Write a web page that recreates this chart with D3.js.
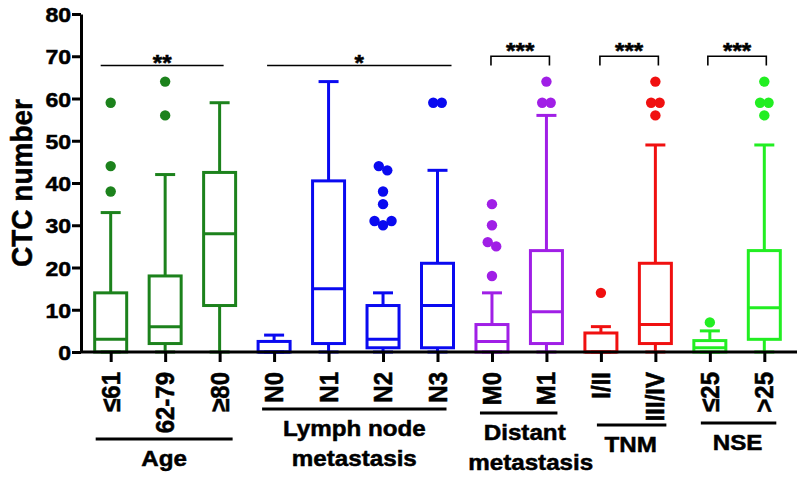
<!DOCTYPE html>
<html>
<head>
<meta charset="utf-8">
<script src="https://cdn.jsdelivr.net/npm/d3@7"></script>
<style>
  body { margin: 0; background: #fff; }
  svg { display: block; font-family: "Liberation Sans", Arial, sans-serif; font-weight: bold; }
  svg text { stroke: #000; stroke-width: 0.5px; }
</style>
</head>
<body>
<svg id="chart" width="797" height="477"></svg>
<script>
// categories, left to right
const categories = ["≤61", "62-79", "≥80", "N0", "N1", "N2", "N3", "M0", "M1", "I/II", "III/IV", "≤25", ">25"];

// box plot stats per category
const whiskerLow  = [0, 0, 0,    0,   0,    0,  0,  0,   0,   0,   0,   0,   0];
const q1          = [0, 2, 11,   0,   2,    1,  1,  0,   2,   0,   2,   0,   3];
const median      = [3, 6, 28,   0,   15,   3,  11, 2.5, 9.5, 0,   6.5, 1,   10.5];
const q3          = [14, 18, 42.5, 2.5, 40.5, 11, 21, 6.5, 24,  4.5, 21,  2.7, 24];
const whiskerHigh = [33, 42, 59,  4,   64,   14, 43, 14,  56,  6,   49,  5,   49];
const outliers = [
    [59, 44, 38], [64, 56], [],
    [], [], [44, 43, 38, 35, 31, 30, 31], [59, 59],
    [35, 30, 26, 25, 18], [64, 59, 59],
    [14], [64, 59, 59, 56],
    [7], [64, 59, 59, 56]
];

// groups under the x axis
const groupNames = [["Age"], ["Lymph node", "metastasis"], ["Distant", "metastasis"], ["TNM"], ["NSE"]];
const groupFirst = [0, 3, 7, 9, 11];
const groupLast  = [2, 6, 8, 10, 12];
const groupColors = ["#1c821c", "#0a0af0", "#a01fe6", "#f01010", "#22ee22"];

// significance marks
const sigLabels = ["**", "*", "***", "***", "***"];
const sigStyle  = ["line", "line", "bracket", "bracket", "bracket"];

// layout only
const groupBarY = [439, 409, 413, 425, 423];
const groupBarPad = [[15, 13], [12, 9], [12, 11], [4, 11], [9, 12]];
const groupTextDx = [0, 0, 6, -1, -1];
const sigPad = [[10, 4], [7, 14], [1, 3], [1, 3], [2, 2]];
const stretch = 1.1;

const svg = d3.select("#chart");

const y = d3.scaleLinear().domain([0, 80]).range([352, 14]);
const x = d3.scalePoint().domain(categories).range([81, 794]).padding(0.545);

function groupOf(i) {
    for (let g = 0; g < groupFirst.length; g++) {
        if (i >= groupFirst[g] && i <= groupLast[g]) return g;
    }
    return 0;
}

const boxes = categories.map(function (c, i) {
    return {
        name: c, cx: x(c), color: groupColors[groupOf(i)],
        lo: whiskerLow[i], q1: q1[i], med: median[i], q3: q3[i], hi: whiskerHigh[i],
        out: outliers[i]
    };
});

const boxW = 32, capW = 20;

const bg = svg.append("g").selectAll(".box")
    .data(boxes)
    .enter().append("g")
    .attr("class", "box")
    .attr("stroke", function (d) { return d.color; })
    .attr("stroke-width", 3)
    .attr("fill", "none");

// whiskers
bg.append("line")
    .attr("x1", function (d) { return d.cx; }).attr("x2", function (d) { return d.cx; })
    .attr("y1", function (d) { return y(d.hi); }).attr("y2", function (d) { return y(d.q3); });
bg.append("line")
    .attr("x1", function (d) { return d.cx; }).attr("x2", function (d) { return d.cx; })
    .attr("y1", function (d) { return y(d.q1); }).attr("y2", function (d) { return y(d.lo); });
bg.append("line")
    .attr("x1", function (d) { return d.cx - capW / 2; }).attr("x2", function (d) { return d.cx + capW / 2; })
    .attr("y1", function (d) { return y(d.hi); }).attr("y2", function (d) { return y(d.hi); });
bg.append("line")
    .attr("x1", function (d) { return d.cx - capW / 2; }).attr("x2", function (d) { return d.cx + capW / 2; })
    .attr("y1", function (d) { return y(d.lo); }).attr("y2", function (d) { return y(d.lo); });

// box + median
bg.append("rect")
    .attr("x", function (d) { return d.cx - boxW / 2; })
    .attr("y", function (d) { return y(d.q3); })
    .attr("width", boxW)
    .attr("height", function (d) { return y(d.q1) - y(d.q3); });
bg.append("line")
    .attr("x1", function (d) { return d.cx - boxW / 2; }).attr("x2", function (d) { return d.cx + boxW / 2; })
    .attr("y1", function (d) { return y(d.med); }).attr("y2", function (d) { return y(d.med); });

// outliers, near-equal values spread sideways
function spread(vals) {
    const res = [];
    let i = 0;
    while (i < vals.length) {
        let j = i;
        while (j + 1 < vals.length && Math.abs(vals[j + 1] - vals[j]) <= 1.5) j++;
        const n = j - i + 1;
        for (let k = 0; k < n; k++) res.push({ v: vals[i + k], dx: (k - (n - 1) / 2) * 8.5 });
        i = j + 1;
    }
    return res;
}

bg.selectAll("circle")
    .data(function (d) { return spread(d.out).map(function (p) { p.cx = d.cx; p.color = d.color; return p; }); })
    .enter().append("circle")
    .attr("cx", function (p) { return p.cx + p.dx; })
    .attr("cy", function (p) { return y(p.v); })
    .attr("r", 5.2)
    .attr("stroke", "none")
    .attr("fill", function (p) { return p.color; });

// axes
const yAxis = svg.append("g")
    .attr("transform", "translate(81,0)")
    .call(d3.axisLeft(y).tickValues(d3.range(0, 81, 10)).tickSize(9).tickSizeOuter(0));
yAxis.select(".domain").attr("stroke-width", 3);
yAxis.selectAll(".tick line").attr("stroke-width", 3);
yAxis.selectAll(".tick text")
    .attr("x", -9)
    .attr("dy", "0.36em")
    .attr("transform", "scale(" + stretch + ",1)")
    .style("font-size", "21px")
    .style("font-family", "'Liberation Sans', Arial, sans-serif")
    .style("font-weight", "bold")
    .attr("fill", "#000");

const xAxis = svg.append("g")
    .attr("transform", "translate(0,352)")
    .call(d3.axisBottom(x).tickSize(10).tickSizeOuter(0).tickFormat(""));
xAxis.select(".domain").attr("d", "M81,0H797").attr("stroke-width", 3);
xAxis.selectAll(".tick line").attr("stroke-width", 3);

// rotated category labels
svg.append("g").selectAll("text")
    .data(categories)
    .enter().append("text")
    .attr("transform", function (d) { return "translate(" + (x(d) + 9) + ",372) rotate(-90) scale(1," + stretch + ")"; })
    .attr("text-anchor", "end")
    .style("font-size", "24px")
    .text(function (d) { return d; });

// group bars and names
groupNames.forEach(function (lines, g) {
    const x0 = x(categories[groupFirst[g]]) - groupBarPad[g][0];
    const x1 = x(categories[groupLast[g]]) + groupBarPad[g][1];
    const by = groupBarY[g];
    svg.append("line")
        .attr("x1", x0).attr("x2", x1).attr("y1", by).attr("y2", by)
        .attr("stroke", "#000").attr("stroke-width", 3);
    lines.forEach(function (t, k) {
        svg.append("text")
            .attr("transform", "translate(" + ((x0 + x1) / 2 + groupTextDx[g] + k * groupTextDx[g]) + "," + (by + 27 + k * 30) + ") scale(" + stretch + ",1)")
            .attr("text-anchor", "middle")
            .style("font-size", "22px")
            .text(t);
    });
});

// y axis title
svg.append("text")
    .attr("transform", "translate(32,183) rotate(-90) scale(1,1.08)")
    .attr("text-anchor", "middle")
    .style("font-size", "28px")
    .text("CTC number");

// significance
sigLabels.forEach(function (lab, g) {
    const x0 = x(categories[groupFirst[g]]) - sigPad[g][0];
    const x1 = x(categories[groupLast[g]]) + sigPad[g][1];
    let top, ty;
    if (sigStyle[g] === "bracket") {
        top = y(70);
        const foot = y(67.8);
        svg.append("path")
            .attr("d", "M" + x0 + "," + foot + "V" + top + "H" + x1 + "V" + foot)
            .attr("fill", "none").attr("stroke", "#000").attr("stroke-width", 1.6);
        ty = top + 2;
    } else {
        top = y(67.8);
        svg.append("line")
            .attr("x1", x0).attr("x2", x1).attr("y1", top).attr("y2", top)
            .attr("stroke", "#000").attr("stroke-width", 1.6);
        ty = top + 4;
    }
    svg.append("text")
        .attr("transform", "translate(" + ((x0 + x1) / 2) + "," + ty + ") scale(" + stretch + ",1)")
        .attr("text-anchor", "middle")
        .style("font-size", "22px")
        .text(lab);
});
</script>
</body>
</html>
